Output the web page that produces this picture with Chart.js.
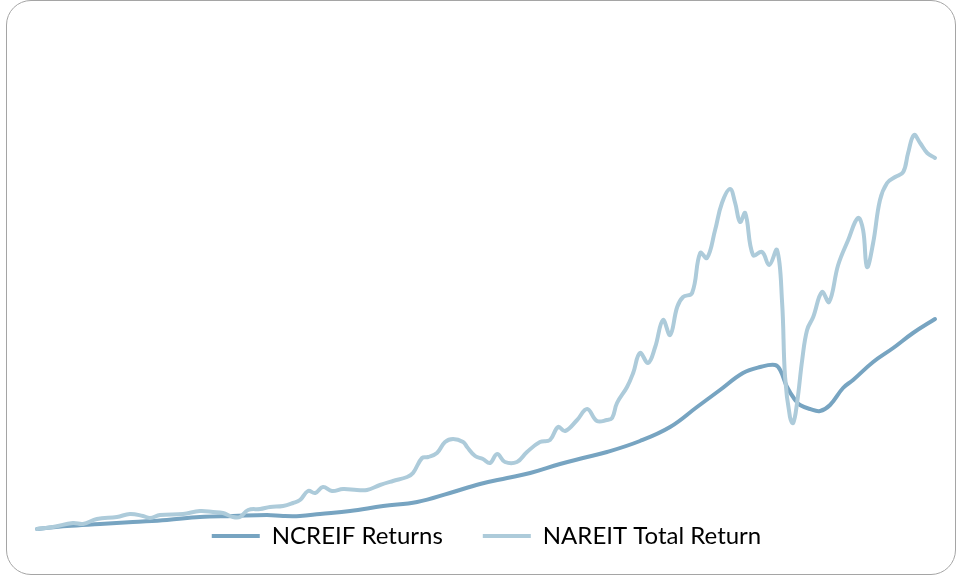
<!DOCTYPE html>
<html><head><meta charset="utf-8">
<script src="https://cdn.jsdelivr.net/npm/chart.js@4"></script>
<style>
html,body{margin:0;padding:0;background:#fff;}
#wrap{position:relative;width:956px;height:575px;overflow:hidden;}
#frame{position:absolute;left:6px;top:0;width:948px;height:573px;border:1px solid #a5a5a5;border-radius:25px;pointer-events:none;}
canvas{position:absolute;left:0;top:0;}
</style></head><body>
<div id="wrap"><canvas id="c" width="956" height="575"></canvas><div id="frame"></div></div>
<script>
const seriesNames = ['NCREIF Returns', 'NAREIT Total Return'];
const seriesColors = ['#77a4c1', '#adcbda'];

const ncreifYears = [1978.00,1979.23,1980.58,1981.92,1983.31,1984.66,1986.01,1987.40,1988.06,1988.75,
  1989.57,1990.80,1992.15,1993.54,1994.88,1996.11,1997.22,1998.16,1999.38,2000.32,
  2001.30,2002.65,2003.88,2004.98,2005.92,2006.86,2007.56,2008.17,2008.38,2008.66,
  2008.99,2009.19,2009.60,2010.01,2010.42,2010.95,2011.36,2012.18,2013.00,2013.81,2014.71];
const ncreifValues = [100,130,150,170,190,220,230,240,230,230,
  250,280,330,370,460,550,610,660,750,810,
  870,980,1120,1320,1490,1660,1720,1740,1690,1520,
  1390,1340,1300,1280,1340,1510,1590,1770,1910,2060,2200];

const nareitYears = [1978.00,1978.65,1979.47,1979.88,1980.45,1981.27,1981.80,1982.33,1982.62,1983.03,
  1983.97,1984.66,1985.20,1985.60,1986.01,1986.30,1986.63,1987.12,1987.53,1988.06,
  1988.47,1988.75,1989.08,1989.37,1989.69,1990.06,1990.51,1991.08,1991.49,1992.02,
  1992.55,1993.13,1993.37,1993.74,1993.99,1994.35,1994.68,1995.01,1995.42,1995.58,
  1995.91,1996.23,1996.52,1996.81,1997.13,1997.62,1998.03,1998.56,1998.97,1999.30,
  1999.59,2000.08,2000.49,2000.89,2001.30,2001.51,2001.71,2002.12,2002.37,2002.65,
  2002.98,2003.27,2003.59,2003.88,2004.17,2004.41,2004.78,2005.11,2005.39,2005.72,
  2006.00,2006.33,2006.54,2006.74,2006.95,2007.27,2007.64,2007.93,2008.25,2008.46,
  2008.58,2008.78,2008.91,2009.07,2009.28,2009.48,2009.73,2010.09,2010.38,2010.75,
  2011.16,2011.56,2011.77,2011.93,2012.18,2012.46,2012.75,2013.08,2013.41,2013.61,
  2013.85,2014.10,2014.39,2014.71];
const nareitValues = [100,120,160,150,200,220,250,230,210,240,
  250,280,270,260,220,220,290,300,320,330,
  360,390,480,460,520,480,500,490,490,540,
  580,620,660,810,820,860,970,1000,970,920,
  830,800,760,850,770,770,870,970,990,1120,
  1080,1190,1300,1180,1190,1210,1360,1520,1660,1860,
  1760,1920,2190,2040,2320,2420,2460,2860,2810,3090,
  3360,3500,3360,3170,3260,2840,2870,2740,2890,2360,
  1620,1220,1160,1360,1790,2090,2220,2470,2370,2740,
  2990,3210,3090,2720,2960,3390,3560,3620,3670,3860,
  4040,3960,3860,3810];

const toPoints = (xs, ys) => xs.map((x, i) => ({x: x, y: ys[i]}));

new Chart(document.getElementById('c'), {
  type: 'line',
  data: {
    datasets: [
      {label: seriesNames[0], data: toPoints(ncreifYears, ncreifValues), borderColor: seriesColors[0], backgroundColor: seriesColors[0],
       borderWidth: 4, pointRadius: 0, tension: 0.4, clip: false, fill: false, order: 1,
       borderCapStyle: 'round', borderJoinStyle: 'round'},
      {label: seriesNames[1], data: toPoints(nareitYears, nareitValues), borderColor: seriesColors[1], backgroundColor: seriesColors[1],
       borderWidth: 4, pointRadius: 0, tension: 0.4, clip: false, fill: false, order: 0,
       borderCapStyle: 'round', borderJoinStyle: 'round'}
    ]
  },
  options: {
    responsive: false,
    animation: false,
    layout: {padding: {left: 37, right: 20, top: 20, bottom: 17}},
    scales: {
      x: {type: 'linear', min: 1978, max: 2014.75, display: false},
      y: {min: 550, max: 5190, display: false}
    },
    plugins: {
      tooltip: {enabled: false},
      legend: {
        position: 'bottom',
        labels: {
          usePointStyle: true, pointStyle: 'line', pointStyleWidth: 48, padding: 40,
          color: '#000', font: {family: "Lato, 'Liberation Sans', sans-serif", size: 24},
          sort: (a, b) => a.datasetIndex - b.datasetIndex
        }
      }
    }
  }
});
</script>
</body></html>
